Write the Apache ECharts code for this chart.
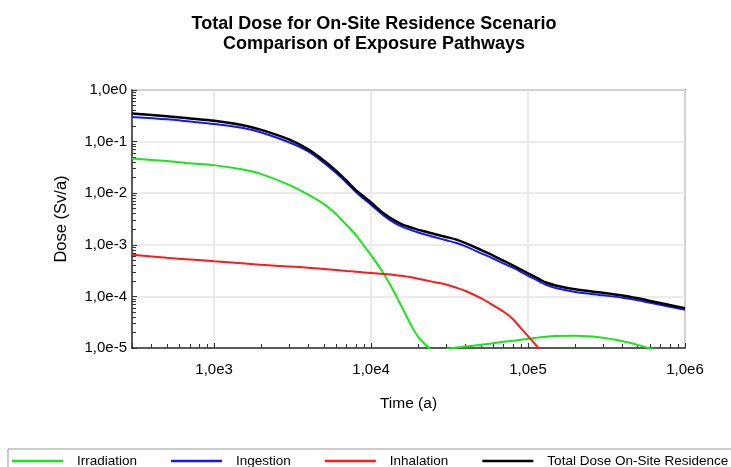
<!DOCTYPE html>
<html><head><meta charset="utf-8">
<script src="https://cdn.jsdelivr.net/npm/echarts@6/dist/echarts.min.js"></script>
<style>html,body{margin:0;padding:0;background:#fff}#c{width:731px;height:467px}</style>
</head><body><div id="c"></div>
<script>
const titleText = 'Total Dose for On-Site Residence Scenario\nComparison of Exposure Pathways';
const xAxisName = 'Time (a)';
const yAxisName = 'Dose (Sv/a)';
const seriesNames = ['Irradiation', 'Ingestion', 'Inhalation', 'Total Dose On-Site Residence'];
const seriesColors = ['#19e619', '#1515ff', '#ff1a1a', '#000000'];

const times = [300, 500, 700, 1000, 1500, 2000, 3000, 4000, 5000, 6000, 7000, 8000, 9000, 10000,
  12000, 14000, 16000, 18000, 20000, 23000, 26000, 30000, 35000, 40000, 50000, 60000, 70000, 80000,
  90000, 100000, 110000, 120000, 130000, 150000, 200000, 300000, 400000, 500000, 600000, 800000, 1000000];

const irradiation = [0.047, 0.042, 0.038, 0.035, 0.029, 0.0234, 0.0145, 0.0093, 0.0062, 0.0039, 0.0024, 0.00155, 0.00096, 0.00063,
  0.00028, 0.000123, 0.0000556, 0.0000277, 0.0000162, 0.0000105, 0.0000079, 0.0000093, 0.0000102, 0.0000107, 0.0000115, 0.0000123, 0.0000132, 0.0000138,
  0.0000145, 0.0000151, 0.0000156, 0.0000162, 0.0000166, 0.000017, 0.0000172, 0.0000158, 0.0000135, 0.0000115, 0.0000098, 0.0000076, 0.0000056];

const ingestion = [0.30, 0.27, 0.245, 0.22, 0.185, 0.15, 0.097, 0.064, 0.039, 0.0245, 0.0158, 0.0105, 0.0078, 0.006,
  0.0037, 0.0027, 0.0022, 0.00193, 0.00173, 0.00153, 0.00138, 0.00123, 0.00108, 0.00093, 0.00069, 0.00054, 0.00043, 0.00036,
  0.0003, 0.00025, 0.000218, 0.00019, 0.000167, 0.000145, 0.000122, 0.000105, 0.000094, 0.000084, 0.000075, 0.000063, 0.000055];

const inhalation = [0.00064, 0.00056, 0.00052, 0.00048, 0.00044, 0.00041, 0.00038, 0.000359, 0.000339, 0.000324, 0.000311, 0.000301, 0.000292, 0.000284,
  0.000271, 0.000261, 0.000248, 0.000234, 0.000219, 0.000201, 0.000186, 0.00017, 0.000147, 0.000127, 0.0000923, 0.0000671, 0.0000503, 0.0000365,
  0.0000243, 0.000017, 0.0000123, 0.0000089, 0.0000063, null, null, null, null, null, null, null, null];

const totalDose = [0.351, 0.31, 0.28, 0.254, 0.21, 0.169, 0.11, 0.07, 0.043, 0.0271, 0.0173, 0.0115, 0.0086, 0.0066,
  0.0041, 0.003, 0.00243, 0.00216, 0.00195, 0.00175, 0.00158, 0.00142, 0.00126, 0.00108, 0.0008, 0.00062, 0.00049, 0.0004,
  0.00033, 0.00028, 0.000242, 0.00021, 0.000186, 0.000163, 0.000137, 0.000118, 0.000104, 0.0000917, 0.0000817, 0.0000679, 0.0000593];

const xMin = 300, xMax = 1000000, yMin = 0.00001, yMax = 1;

const FONT = "'Liberation Sans', Arial, sans-serif";
const valuesList = [irradiation, ingestion, inhalation, totalDose];

function expLabel(v) {
  const e = Math.log10(v);
  const r = Math.round(e);
  if (Math.abs(e - r) > 1e-6) return '';
  return '1,0e' + r;
}

const chart = echarts.init(document.getElementById('c'), null, {renderer: 'canvas'});
chart.setOption({
  animation: false,
  backgroundColor: '#ffffff',
  title: {
    text: titleText,
    left: 369,
    top: 9,
    textAlign: 'center',
    textStyle: {fontFamily: FONT, fontSize: 18, fontWeight: 'bold', color: '#000', lineHeight: 20}
  },
  legend: {
    data: seriesNames,
    left: 8,
    top: 449,
    width: 900,
    orient: 'horizontal',
    padding: [5, 30, 5, 4],
    borderColor: '#999',
    borderWidth: 1,
    icon: 'rect',
    itemWidth: 51,
    itemHeight: 2.5,
    itemGap: 34,
    textStyle: {fontFamily: FONT, fontSize: 13.5, color: '#000', padding: [0, 0, 0, 9]}
  },
  grid: {
    left: 132, right: 46, top: 90, bottom: 119,
    show: true, borderColor: '#9a9a9a', borderWidth: 2, backgroundColor: 'transparent'
  },
  xAxis: {
    type: 'log', logBase: 10, min: xMin, max: xMax,
    name: xAxisName, nameLocation: 'middle', nameGap: 48,
    nameTextStyle: {fontFamily: FONT, fontSize: 15.5, color: '#000'},
    axisLine: {show: true, lineStyle: {color: '#333', width: 1.5}},
    axisTick: {show: true, inside: true, length: 5, lineStyle: {color: '#333'}},
    minorTick: {show: true, splitNumber: 9, length: 4, lineStyle: {color: '#333'}},
    axisLabel: {formatter: expLabel, fontFamily: FONT, fontSize: 15, color: '#000', margin: 14, showMinLabel: false},
    splitLine: {show: true, lineStyle: {color: '#e4e4e4', width: 1.5}}
  },
  yAxis: {
    type: 'log', logBase: 10, min: yMin, max: yMax,
    name: yAxisName, nameLocation: 'middle', nameGap: 62,
    nameTextStyle: {fontFamily: FONT, fontSize: 16.5, color: '#000'},
    axisLine: {show: true, lineStyle: {color: '#333', width: 1.5}},
    axisTick: {show: true, inside: true, length: 5, lineStyle: {color: '#333'}},
    minorTick: {show: true, splitNumber: 9, length: 4, lineStyle: {color: '#333'}},
    axisLabel: {formatter: expLabel, fontFamily: FONT, fontSize: 15, color: '#000', margin: 5},
    splitLine: {show: true, lineStyle: {color: '#e4e4e4', width: 1.5}}
  },
  series: seriesNames.map((name, i) => ({
    name: name,
    type: 'line',
    data: times.map((t, j) => [t, valuesList[i][j]]),
    showSymbol: false,
    symbol: 'none',
    smooth: 0.3,
    clip: true,
    connectNulls: false,
    lineStyle: {color: seriesColors[i], width: i === 3 ? 2.5 : 2},
    itemStyle: {color: seriesColors[i]}
  }))
});
</script>
</body></html>
